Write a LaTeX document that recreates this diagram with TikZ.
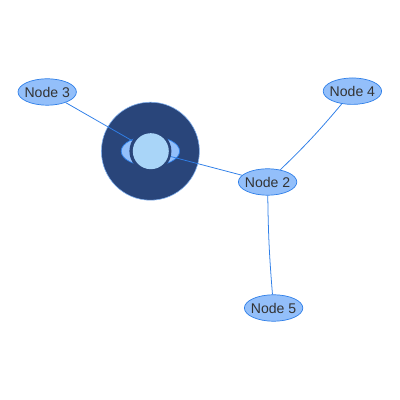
\documentclass[tikz,border=0pt]{standalone}
\usepackage{fontspec}
\setmainfont{Liberation Sans}
\usetikzlibrary{shapes.geometric}
\definecolor{edgeblue}{HTML}{2F7FE8}
\definecolor{nodeblue}{HTML}{93BFFA}
\definecolor{navy}{HTML}{29457A}
\definecolor{paleblue}{HTML}{A9D5F8}
\definecolor{labelgray}{HTML}{333333}
\begin{document}
\begin{tikzpicture}[font=\fontsize{10}{12}\selectfont]
    \tikzset{blob/.style={
      ellipse, draw=edgeblue, fill=nodeblue, line width=0.5pt, text=labelgray,
      minimum width=1.46cm, minimum height=0.66cm, inner xsep=-2pt, inner ysep=0pt
    }}
    \tikzset{link/.style={draw=edgeblue, line width=0.55pt}}
    \useasboundingbox (0,0) rectangle (10,10);
    % Central disc
    \node[circle, draw=edgeblue!60, fill=navy, line width=0.4pt, minimum size=2.45cm, inner sep=0pt] (disc) at (3.76,6.22) {};
    \node[blob, minimum height=0.74cm] (wings) at (3.76,6.22) {};
    % Outer nodes
    \node[blob] (node3) at (1.18,7.70) {Node 3};
    \node[blob] (node2) at (6.69,5.45) {Node 2};
    \node[blob] (node4) at (8.81,7.72) {Node 4};
    \node[blob] (node5) at (6.84,2.30) {Node 5};

    % Edges
    \draw[link] (node3) -- (disc.center);
    \draw[link] (node2) -- (disc.center);
    \draw[link] (node2) to[bend right=3] (node4);
    \draw[link] (node2) to[bend right=2] (node5);

    % Cover on the disc
    \node[circle, fill=navy, minimum size=1.05cm, inner sep=0pt] (gap) at (disc.center) {};
    \node[circle, fill=paleblue, minimum size=0.9cm, inner sep=0pt] (core) at (3.77,6.22) {};
\end{tikzpicture}
\end{document}
